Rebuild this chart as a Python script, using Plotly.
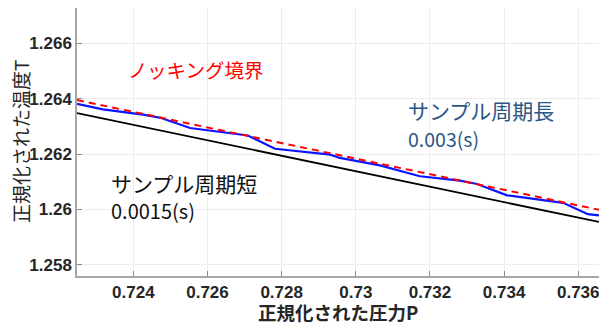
import plotly.graph_objects as go

# Normalised pressure / temperature data
x_range = [0.72248, 0.73656]
y_range = [1.25760, 1.26727]

# knock boundary (red dashed)
knock_p = [0.72248, 0.73656]
knock_t = [1.26395, 1.25999]

# short sampling period 0.0015 s (black)
short_p = [0.72248, 0.73656]
short_t = [1.26348, 1.25955]

# long sampling period 0.003 s (blue)
long_p = [0.72248, 0.72318, 0.72426, 0.72475, 0.72553, 0.72596, 0.72709,
          0.72782, 0.72931, 0.72957, 0.73065, 0.73173, 0.73281, 0.73327,
          0.73408, 0.73559, 0.73626, 0.73656]
long_t = [1.26381, 1.26361, 1.26342, 1.26330, 1.26294, 1.26286, 1.26267,
          1.26219, 1.26198, 1.26186, 1.26159, 1.26120, 1.26104, 1.26092,
          1.26051, 1.26024, 1.25983, 1.25979]

x_ticks = [0.724, 0.726, 0.728, 0.730, 0.732, 0.734, 0.736]
x_tick_text = ["0.724", "0.726", "0.728", "0.73", "0.732", "0.734", "0.736"]
y_ticks = [1.258, 1.260, 1.262, 1.264, 1.266]
y_tick_text = ["1.258", "1.26", "1.262", "1.264", "1.266"]

JP = "Noto Sans CJK JP"
TICK_FONT = dict(family="Liberation Sans", size=17, color="#262626", weight="bold")

fig = go.Figure()
fig.add_trace(go.Scatter(x=short_p, y=short_t, mode="lines",
                         line=dict(color="#000000", width=1.8), showlegend=False))
fig.add_trace(go.Scatter(x=long_p, y=long_t, mode="lines",
                         line=dict(color="#0a14ff", width=2.2), showlegend=False))
fig.add_trace(go.Scatter(x=knock_p, y=knock_t, mode="lines",
                         line=dict(color="#ff0000", width=2, dash="7px,5px"),
                         showlegend=False))

axis_common = dict(
    showgrid=True, gridcolor="#ececec", gridwidth=1,
    showline=True, linecolor="#a6a6a6", linewidth=1.5,
    ticks="inside", ticklen=5, tickcolor="#8c8c8c", tickwidth=1,
    zeroline=False, tickfont=TICK_FONT, ticklabeloverflow="allow",
)

fig.update_xaxes(range=x_range, tickvals=x_ticks, ticktext=x_tick_text,
                 ticklabelstandoff=0, **axis_common)
fig.update_yaxes(range=y_range, tickvals=y_ticks, ticktext=y_tick_text,
                 ticklabelstandoff=0, **axis_common)

annotations = [
    dict(text="ノッキング境界", x=0.72383, y=1.26505, xanchor="left", yanchor="middle",
         font=dict(family=JP, size=19.5, color="#ff0000")),
    dict(text="サンプル周期長", x=0.73139, y=1.26360, xanchor="left", yanchor="middle",
         font=dict(family=JP, size=21, color="#2b5686")),
    dict(text="0.003(s)", x=0.73137, y=1.26256, xanchor="left", yanchor="middle",
         font=dict(family=JP, size=19.5, color="#2b5686")),
    dict(text="サンプル周期短", x=0.72337, y=1.26097, xanchor="left", yanchor="middle",
         font=dict(family=JP, size=21, color="#111111")),
    dict(text="0.0015(s)", x=0.72337, y=1.25996, xanchor="left", yanchor="middle",
         font=dict(family=JP, size=20, color="#111111")),
    # axis titles
    dict(text="正規化された圧力P", xref="paper", yref="paper", x=0.5, y=-0.136,
         xanchor="center", yanchor="middle", showarrow=False,
         font=dict(family=JP, size=18.5, color="#262626", weight="bold")),
    dict(text="正規化された温度T", xref="paper", yref="paper", x=-0.109, y=0.5,
         xanchor="center", yanchor="middle", textangle=-90, showarrow=False,
         font=dict(family=JP, size=19, color="#262626")),
]
for a in annotations:
    a.setdefault("showarrow", False)
    a["borderpad"] = 0
fig.update_layout(annotations=annotations)

fig.update_layout(
    width=599, height=324,
    margin=dict(l=77, r=0, t=8, b=48),
    paper_bgcolor="white", plot_bgcolor="white",
)

fig.write_html("out.html")
